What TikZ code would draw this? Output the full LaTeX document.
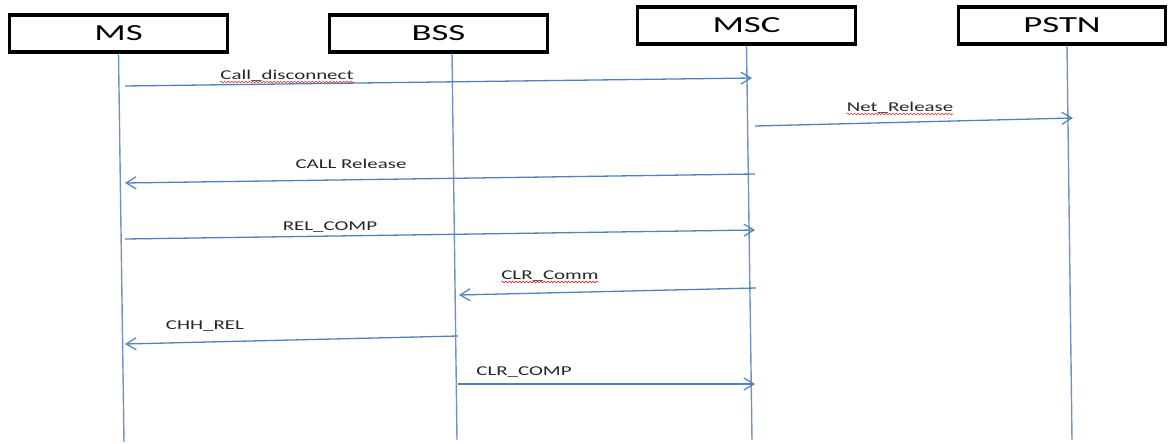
\documentclass[tikz,border=0pt]{standalone}
\usepackage{fontspec}
\setmainfont{Carlito}
\usetikzlibrary{arrows.meta,decorations.pathmorphing}
\definecolor{lineblue}{HTML}{4F81BD}
\definecolor{lifeblue}{HTML}{6F95C8}
\definecolor{wavyred}{HTML}{E03030}
% wide lettering of the diagram
\newcommand{\widetext}[2]{\scalebox{#1}[1]{#2}}

\begin{document}
\begin{tikzpicture}[x=1pt,y=-1pt,
  actor/.style={draw=black, line width=3.4pt, fill=white, inner sep=0pt,
                minimum width=218pt, minimum height=37pt,
                font=\fontsize{23pt}{26pt}\selectfont},
  life/.style={draw=lifeblue, line width=1.4pt},
  msg/.style={draw=lineblue, line width=1.3pt,
              -{Straight Barb[length=10pt,width=12pt,line width=1.2pt]}},
  msglabel/.style={anchor=base, inner sep=0pt, text=black!85,
                   font=\fontsize{13.5pt}{16pt}\selectfont},
  wavy/.style={draw=wavyred, line width=0.6pt,
               decorate, decoration={snake, amplitude=0.9pt, segment length=3.5pt}}
]
\useasboundingbox (0,0) rectangle (1169,444);
\clip (0,0) rectangle (1169,444);

% participants
\node[actor] (ms)   at (118.5,33.5) {\widetext{1.6}{MS}};
\node[actor] (bss)  at (438.5,33.5) {\widetext{1.6}{BSS}};
\node[actor] (msc)  at (746.5,25.5) {\widetext{1.6}{MSC}};
\node[actor, minimum width=207pt] (pstn) at (1062,25.5) {\widetext{1.6}{PSTN}};

% lifeline ends
\coordinate (msBot)   at (124,442);
\coordinate (bssBot)  at (457,440);
\coordinate (mscBot)  at (752,440);
\coordinate (pstnBot) at (1072,440);

\draw[life] (ms.south)  -- (msBot);
\draw[life] ([xshift=13.5pt]bss.south) -- (bssBot);
\draw[life] (msc.south) -- (mscBot);
\draw[life] ([xshift=5pt]pstn.south) -- (pstnBot);

% message end points on the lifelines
\coordinate (m1a) at (125,86);  \coordinate (m1b) at (752,78);
\coordinate (m2a) at (755,126); \coordinate (m2b) at (1073,118);
\coordinate (m3a) at (755,174); \coordinate (m3b) at (125,183);
\coordinate (m4a) at (125,239); \coordinate (m4b) at (755,230);
\coordinate (m5a) at (756,288); \coordinate (m5b) at (459,295);
\coordinate (m6a) at (458,336); \coordinate (m6b) at (125,344);
\coordinate (m7a) at (458,384); \coordinate (m7b) at (755,384);

\draw[msg] (m1a) -- (m1b);
\draw[msg] (m2a) -- (m2b);
\draw[msg] (m3a) -- (m3b);
\draw[msg] (m4a) -- (m4b);
\draw[msg] (m5a) -- (m5b);
\draw[msg] (m6a) -- (m6b);
\draw[msg] (m7a) -- (m7b);

% message labels
\node[msglabel] (l1) at (287,79)  {\widetext{1.55}{Call\_disconnect}};
\node[msglabel] (l2) at (900,111) {\widetext{1.55}{Net\_Release}};
\node[msglabel] (l3) at (351,168) {\widetext{1.55}{CALL Release}};
\node[msglabel] (l4) at (330,230) {\widetext{1.55}{REL\_COMP}};
\node[msglabel] (l5) at (550,279) {\widetext{1.55}{CLR\_Comm}};
\node[msglabel] (l6) at (205,329) {\widetext{1.55}{CHH\_REL}};
\node[msglabel] (l7) at (524,375) {\widetext{1.55}{CLR\_COMP}};

% spell-check squiggles
\draw[wavy] ([yshift=-3pt]l1.base west) -- ([yshift=-3pt]l1.base east);
\draw[wavy] ([yshift=-3pt]l2.base west) -- ([yshift=-3pt]l2.base east);
\draw[wavy] ([yshift=-3pt]l5.base west) -- ([yshift=-3pt]l5.base east);
\end{tikzpicture}
\end{document}
